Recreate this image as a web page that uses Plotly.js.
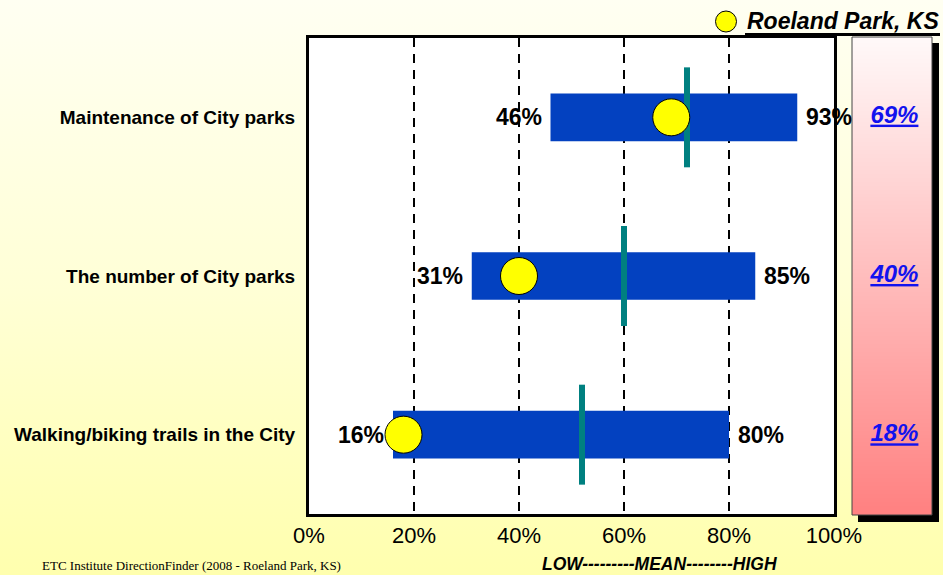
<!DOCTYPE html>
<html><head><meta charset="utf-8">
<script src="https://cdn.plot.ly/plotly-3.0.1.min.js"></script>
<style>
html,body{margin:0;padding:0;}
body{width:943px;height:575px;overflow:hidden;background:linear-gradient(180deg,#FFFFF2 0%,#FFFFD6 50%,#FFFFAE 100%);}
#chart{width:943px;height:575px;}
</style>
</head><body><div id="chart"></div>
<script>
const categories = ['Maintenance of City parks', 'The number of City parks', 'Walking/biking trails in the City'];
const lowValues = [46, 31, 16];
const highValues = [93, 85, 80];
const meanValues = [72, 60, 52];
const cityValues = [69, 40, 18];
const cityName = 'Roeland Park, KS';
const xTickValues = [0, 20, 40, 60, 80, 100];
const xTickLabels = ['0%', '20%', '40%', '60%', '80%', '100%'];
const scaleLabel = 'LOW---------MEAN--------HIGH';
const sourceText = 'ETC Institute DirectionFinder (2008 - Roeland Park, KS)';

const rowIdx = categories.map((c, i) => i);
const FONT = 'Arial, "Liberation Sans", sans-serif';
const W = 943, H = 575;
const px = v => v / W, py = v => 1 - v / H;

const traces = [];
// range bars
traces.push({
  type: 'bar', orientation: 'h', base: lowValues,
  x: highValues.map((h, i) => h - lowValues[i]), y: rowIdx, width: 0.3,
  marker: {color: '#0341C0', line: {width: 0}},
  xaxis: 'x', yaxis: 'y', showlegend: false, hoverinfo: 'skip'
});
// mean lines
const mx = [], my = [];
meanValues.forEach((m, i) => { mx.push(m, m, null); my.push(i - 0.315, i + 0.315, null); });
traces.push({
  type: 'scatter', mode: 'lines', x: mx, y: my,
  line: {color: '#008080', width: 6}, xaxis: 'x', yaxis: 'y',
  showlegend: false, hoverinfo: 'skip', cliponaxis: false
});
// city dots
traces.push({
  type: 'scatter', mode: 'markers', name: cityName, x: cityValues, y: rowIdx,
  marker: {color: '#FFFF00', size: 37, line: {color: '#000', width: 1}},
  xaxis: 'x', yaxis: 'y', showlegend: false, hoverinfo: 'skip', cliponaxis: false
});
// right panel gradient
traces.push({
  type: 'heatmap', x: [0, 1], y: [-0.5, 2.5], z: [[0, 0], [1, 1]], zsmooth: 'best',
  colorscale: [[0, '#FFF9F9'], [1, '#FF8080']], showscale: false,
  xaxis: 'x2', yaxis: 'y2', hoverinfo: 'skip', showlegend: false
});
traces.push({
  type: 'scatter', mode: 'text', x: cityValues.map(() => 0.53), y: rowIdx,
  text: cityValues.map(v => v + '%'), textposition: 'middle center',
  textfont: {family: FONT, size: 24, color: '#1212EE', weight: 'bold', style: 'italic', lineposition: 'under'},
  xaxis: 'x2', yaxis: 'y2', showlegend: false, hoverinfo: 'skip', cliponaxis: false
});

const valueFont = {family: FONT, size: 23, color: '#000', weight: 'bold'};
const annotations = [];
lowValues.forEach((v, i) => annotations.push({
  text: v + '%', xref: 'x', yref: 'y', x: v, y: i, xanchor: 'right', yanchor: 'middle',
  xshift: -7, showarrow: false, font: valueFont
}));
highValues.forEach((v, i) => annotations.push({
  text: v + '%', xref: 'x', yref: 'y', x: v, y: i, xanchor: 'left', yanchor: 'middle',
  xshift: 7, showarrow: false, font: valueFont
}));
annotations.push(
  {text: cityName, xref: 'paper', yref: 'paper', x: px(745), y: py(21),
   xanchor: 'left', yanchor: 'middle', showarrow: false,
   font: {family: FONT, size: 23, color: '#000', weight: 'bold', style: 'italic'}},
  {text: scaleLabel, xref: 'paper', yref: 'paper', x: px(659), y: py(564),
   xanchor: 'center', yanchor: 'middle', showarrow: false,
   font: {family: FONT, size: 17.5, color: '#000', weight: 'bold', style: 'italic'}},
  {text: sourceText, xref: 'paper', yref: 'paper', x: px(40), y: py(575),
   xanchor: 'left', yanchor: 'bottom', showarrow: false,
   font: {family: '"Times New Roman", "Liberation Serif", serif', size: 13, color: '#000'}}
);

const layout = {
  width: W, height: H, margin: {l: 0, r: 0, t: 0, b: 0},
  paper_bgcolor: 'rgba(0,0,0,0)', plot_bgcolor: '#FFFFFF',
  showlegend: false,
  xaxis: {
    domain: [px(309), px(834)], range: [0, 100], anchor: 'y',
    showline: true, linewidth: 3, linecolor: '#000', mirror: true,
    showgrid: true, gridcolor: '#000', gridwidth: 1.3, griddash: '9px,7px',
    tickvals: xTickValues, ticktext: xTickLabels, ticks: '',
    tickfont: {family: FONT, size: 22, color: '#000'}, zeroline: false, fixedrange: true
  },
  yaxis: {
    domain: [py(514), py(38)], range: [2.5, -0.5], anchor: 'x',
    showline: true, linewidth: 3, linecolor: '#000', mirror: true,
    showgrid: false, zeroline: false, tickvals: rowIdx, ticktext: categories, ticks: '',
    ticklabelstandoff: 7,
    tickfont: {family: FONT, size: 19, color: '#000', weight: 'bold'}, fixedrange: true
  },
  xaxis2: {domain: [px(852), px(932)], range: [0, 1], anchor: 'y2', visible: false, fixedrange: true},
  yaxis2: {domain: [py(515), py(37)], range: [2.5, -0.5], anchor: 'x2', visible: false, fixedrange: true},
  shapes: [
    {type: 'rect', xref: 'paper', yref: 'paper', layer: 'below',
     x0: px(858), x1: px(939), y0: py(522), y1: py(43),
     fillcolor: '#000', line: {width: 0}},
    {type: 'rect', xref: 'paper', yref: 'paper', layer: 'above',
     x0: px(852), x1: px(932), y0: py(515), y1: py(37),
     fillcolor: 'rgba(0,0,0,0)', line: {color: '#444', width: 1}},
    // legend symbol and thick underline
    {type: 'circle', xref: 'paper', yref: 'paper', layer: 'above',
     x0: px(715.5), x1: px(736.5), y0: py(32), y1: py(11),
     fillcolor: '#FFFF00', line: {color: '#000', width: 1}},
    {type: 'line', xref: 'paper', yref: 'paper', layer: 'above',
     x0: px(745), x1: px(940), y0: py(34.5), y1: py(34.5),
     line: {color: '#000', width: 3}}
  ],
  annotations: annotations
};

Plotly.newPlot('chart', traces, layout, {displayModeBar: false, staticPlot: true});
</script>
</body></html>
